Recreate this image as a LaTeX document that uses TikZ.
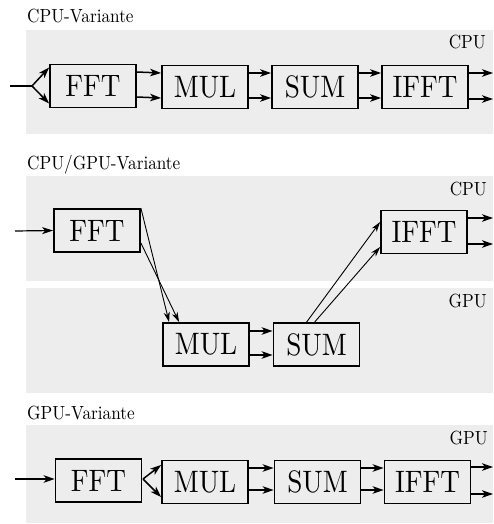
\documentclass[tikz,border=0pt]{standalone}
\usetikzlibrary{arrows.meta,calc}
\definecolor{bandgray}{HTML}{EDEDED}
% text is set at 10pt and enlarged, keeping the sturdy 10pt letter shapes
\newcommand{\smalltext}[1]{\scalebox{1.72}[1.9]{\fontsize{10}{12}\selectfont #1}}
\newcommand{\bigtext}[1]{\scalebox{2.72}[3.1]{\fontsize{10}{12}\selectfont #1}}
\tikzset{
  band/.style={fill=bandgray, draw=none},
  title/.style={anchor=base west, inner sep=0pt},
  unit/.style={anchor=base east, inner sep=0pt},
  stage/.style={draw, line width=1.8pt, fill=bandgray, minimum width=86pt,
    minimum height=43pt, inner sep=0pt},
  flow/.style={line width=1.5pt, -{Stealth[length=11pt,width=7.5pt,inset=3pt]}},
  mid flow/.style={line width=1.2pt, -{Stealth[length=11pt,width=7pt,inset=3pt]}},
  thin flow/.style={line width=0.9pt, -{Stealth[length=10pt,width=6pt,inset=3pt]}},
  wire/.style={line width=1.5pt}
}
\begin{document}
\begin{tikzpicture}[x=1pt,y=-1pt]
\useasboundingbox (0,0) rectangle (493,524);

% ---------- CPU variant ----------
\node[title] (t1) at (27,23) {\smalltext{CPU-Variante}};
\fill[band] (26,30) rectangle (493,134);
\node[unit] (c1) at (486,49) {\smalltext{CPU}};
\node[stage] (fft1)  at (93,86)  {\bigtext{FFT}};
\node[stage] (mul1)  at (205,87) {\bigtext{MUL}};
\node[stage] (sum1)  at (315,87) {\bigtext{SUM}};
\node[stage] (ifft1) at (425,87) {\bigtext{IFFT}};
\coordinate (in1) at (10,86);
\coordinate (sp1) at (32,86);
\coordinate (o1a) at (493,73);
\coordinate (o1b) at (493,99);
\draw[wire] (in1) -- (sp1);
\draw[flow] (sp1) -- ([yshift=18.5pt]fft1.west);
\draw[flow] (sp1) -- ([yshift=-17.5pt]fft1.west);
\foreach \a/\b in {fft1/mul1, mul1/sum1, sum1/ifft1}{
  \draw[flow] ([yshift=14pt]\a.east) -- ([yshift=14pt]\b.west);
  \draw[flow] ([yshift=-11pt]\a.east) -- ([yshift=-11pt]\b.west);
}
\draw[flow] ([yshift=14pt]ifft1.east) -- (o1a);
\draw[flow] ([yshift=-12pt]ifft1.east) -- (o1b);

% ---------- CPU/GPU variant ----------
\node[title] (t2) at (27,169) {\smalltext{CPU/GPU-Variante}};
\fill[band] (26,176) rectangle (493,281);
\fill[band] (26,288) rectangle (493,393);
\node[unit] (c2) at (487,195) {\smalltext{CPU}};
\node[unit] (g2) at (487,307) {\smalltext{GPU}};
\node[stage] (fft2)  at (97,230.5)  {\bigtext{FFT}};
\node[stage] (ifft2) at (424,232)   {\bigtext{IFFT}};
\node[stage] (mul2)  at (206,344.5) {\bigtext{MUL}};
\node[stage] (sum2)  at (316.5,344.5) {\bigtext{SUM}};
\coordinate (in2) at (15,231);
\coordinate (o2a) at (493,218);
\coordinate (o2b) at (493,244);
\draw[mid flow] (in2) -- (fft2.west);
\draw[thin flow] (fft2.north east) -- ([xshift=7pt]mul2.north west);
\draw[thin flow] ([yshift=-12.5pt]fft2.east) -- ([xshift=17pt]mul2.north west);
\draw[flow] ([yshift=13.5pt]mul2.east) -- ([yshift=13.5pt]sum2.west);
\draw[flow] ([yshift=-10.5pt]mul2.east) -- ([yshift=-10.5pt]sum2.west);
\draw[thin flow] ([xshift=34pt]sum2.north west) -- ([yshift=10pt]ifft2.west);
\draw[thin flow] ([xshift=42pt]sum2.north west) -- ([yshift=-15pt]ifft2.west);
\draw[flow] ([yshift=14pt]ifft2.east) -- (o2a);
\draw[flow] ([yshift=-12pt]ifft2.east) -- (o2b);

% ---------- GPU variant ----------
\node[title] (t3) at (27,419) {\smalltext{GPU-Variante}};
\fill[band] (26,425) rectangle (493,523);
\node[unit] (g3) at (488,444) {\smalltext{GPU}};
\node[stage] (fft3)  at (98.5,480.5) {\bigtext{FFT}};
\node[stage] (mul3)  at (205,482)    {\bigtext{MUL}};
\node[stage] (sum3)  at (317.5,482)  {\bigtext{SUM}};
\node[stage] (ifft3) at (427.5,482)  {\bigtext{IFFT}};
\coordinate (in3) at (15,479);
\coordinate (sp3) at (143,479);
\coordinate (o3a) at (493,467);
\coordinate (o3b) at (493,494);
\draw[flow] (in3) -- ([yshift=1.5pt]fft3.west);
\draw[flow] (sp3) -- ([yshift=17pt]mul3.west);
\draw[flow] (sp3) -- ([yshift=-15pt]mul3.west);
\foreach \a/\b in {mul3/sum3, sum3/ifft3}{
  \draw[flow] ([yshift=14pt]\a.east) -- ([yshift=14pt]\b.west);
  \draw[flow] ([yshift=-8pt]\a.east) -- ([yshift=-8pt]\b.west);
}
\draw[flow] ([yshift=15pt]ifft3.east) -- (o3a);
\draw[flow] ([yshift=-12pt]ifft3.east) -- (o3b);
\end{tikzpicture}
\end{document}
